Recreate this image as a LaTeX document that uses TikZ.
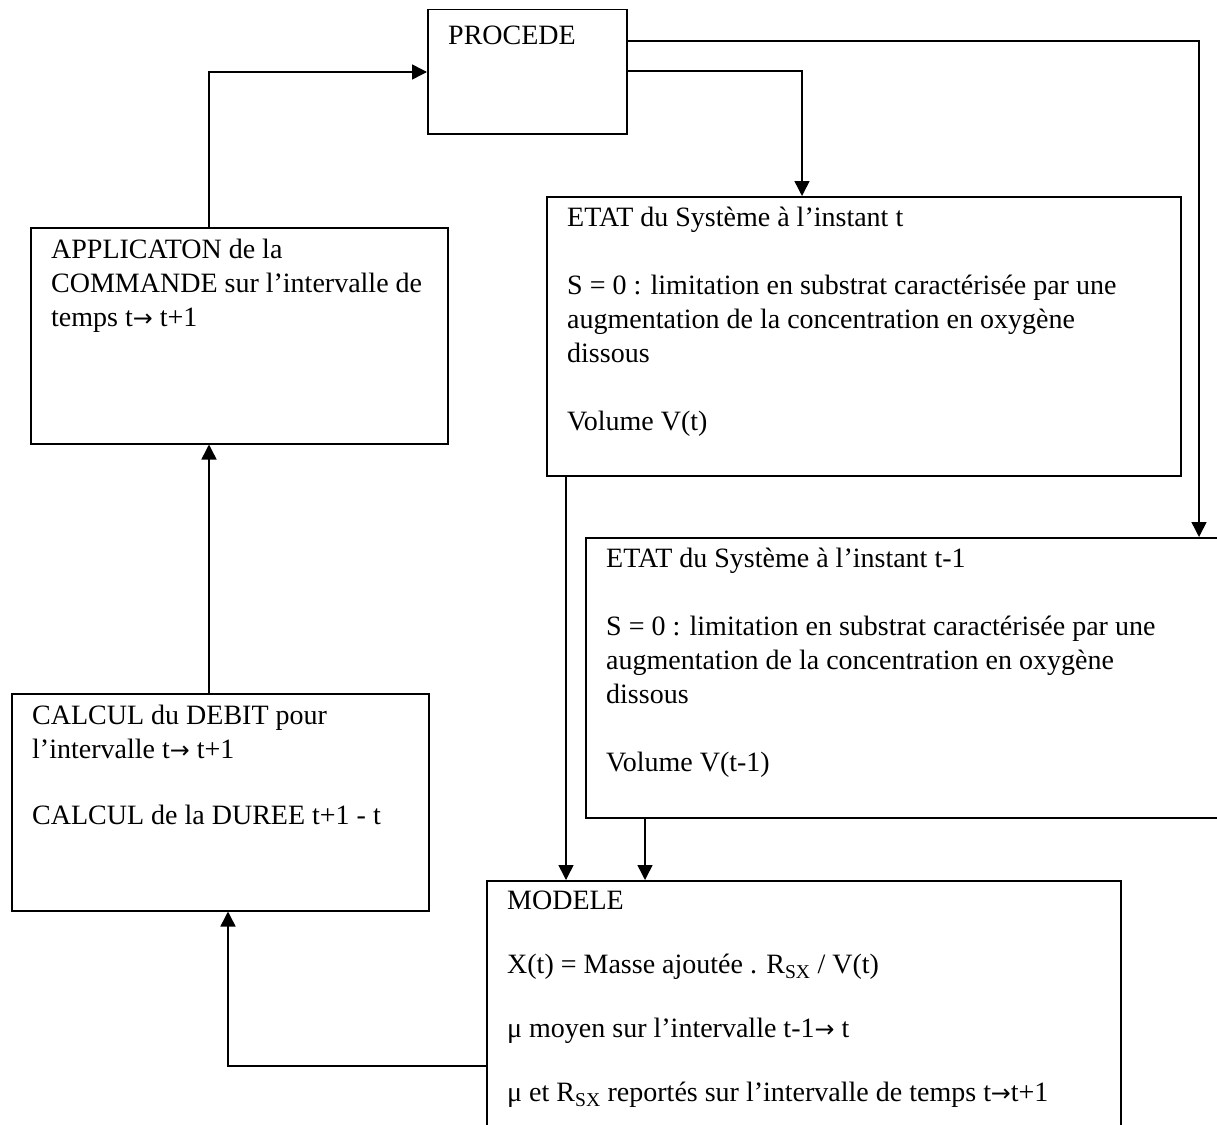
\documentclass[tikz,border=0pt]{standalone}
\usepackage{fontspec}
\setmainfont{Liberation Serif}
\newfontfamily\flechefont[Scale=0.85]{DejaVu Sans}
\newcommand{\fl}{{\flechefont →}}
\usetikzlibrary{arrows.meta}

\begin{document}
\begin{tikzpicture}[x=1pt,y=-1pt,
	bloc/.style={draw,line width=1.5pt,inner sep=0pt,anchor=north west},
	texte/.style={anchor=north west,align=left,inner sep=0pt,
		font=\fontsize{28pt}{34pt}\selectfont,execute at begin node=\strut},
	fleche/.style={line width=1.5pt,-{Triangle[length=15pt,width=15pt]}}]
\useasboundingbox (0,0) rectangle (1217,1124);

% blocs
\node[bloc,minimum width=199pt,minimum height=124pt] (procede) at (427,9) {};
\node[bloc,minimum width=417pt,minimum height=216pt] (applic) at (30,227) {};
\node[bloc,minimum width=634pt,minimum height=279pt] (etata) at (546,196) {};
\node[bloc,minimum width=660pt,minimum height=280pt] (etatb) at (585,537) {};
\node[bloc,minimum width=417pt,minimum height=217pt] (calcul) at (11,693) {};
\node[bloc,minimum width=634pt,minimum height=280pt] (modele) at (486,880) {};

% textes (strut de 23.8pt au-dessus de la ligne de base)
\node[texte] (procede-t) at ([xshift=21pt,yshift=-12pt]procede.north west) {PROCEDE};
\node[texte] (applic-t) at ([xshift=21pt,yshift=-12pt]applic.north west)
	{APPLICATON de la\\COMMANDE sur l’intervalle de\\temps t\fl\ t+1};
\node[texte] (etata-t) at ([xshift=21pt,yshift=-11pt]etata.north west)
	{ETAT du Système à l’instant t\\[34pt]
	S = 0 : limitation en substrat caractérisée par une\\
	augmentation de la concentration en oxygène\\dissous\\[34pt]
	Volume V(t)};
\node[texte] (etatb-t) at ([xshift=21pt,yshift=-11pt]etatb.north west)
	{ETAT du Système à l’instant t-1\\[34pt]
	S = 0 : limitation en substrat caractérisée par une\\
	augmentation de la concentration en oxygène\\dissous\\[34pt]
	Volume V(t-1)};
\node[texte] (calcul-t) at ([xshift=21pt,yshift=-12pt]calcul.north west)
	{CALCUL du DEBIT pour\\l’intervalle t\fl\ t+1\\[32pt]
	CALCUL de la DUREE t+1 - t};
\node[texte] (modele-t) at ([xshift=21pt,yshift=-11pt]modele.north west)
	{MODELE\\[30pt]
	X(t) = Masse ajoutée . R\textsubscript{SX} / V(t)\\[30pt]
	μ moyen sur l’intervalle t-1\fl\ t\\[30pt]
	μ et R\textsubscript{SX} reportés sur l’intervalle de temps t\fl t+1};

% liaisons
\draw[fleche] ([xshift=179pt]applic.north west) |- ([yshift=-63pt]procede.north west);
\draw[fleche] ([yshift=-32pt]procede.north east) -| ([xshift=614pt]etatb.north west);
\draw[fleche] ([yshift=-62pt]procede.north east) -| ([xshift=256pt]etata.north west);
\draw[fleche] ([xshift=198pt]calcul.north west) -- ([xshift=179pt]applic.south west);
\draw[fleche] ([xshift=20pt]etata.south west) -- ([xshift=80pt]modele.north west);
\draw[fleche] ([xshift=60pt]etatb.south west) -- ([xshift=159pt]modele.north west);
\draw[fleche] ([yshift=-186pt]modele.north west) -| ([xshift=217pt]calcul.south west);

\end{tikzpicture}
\end{document}
